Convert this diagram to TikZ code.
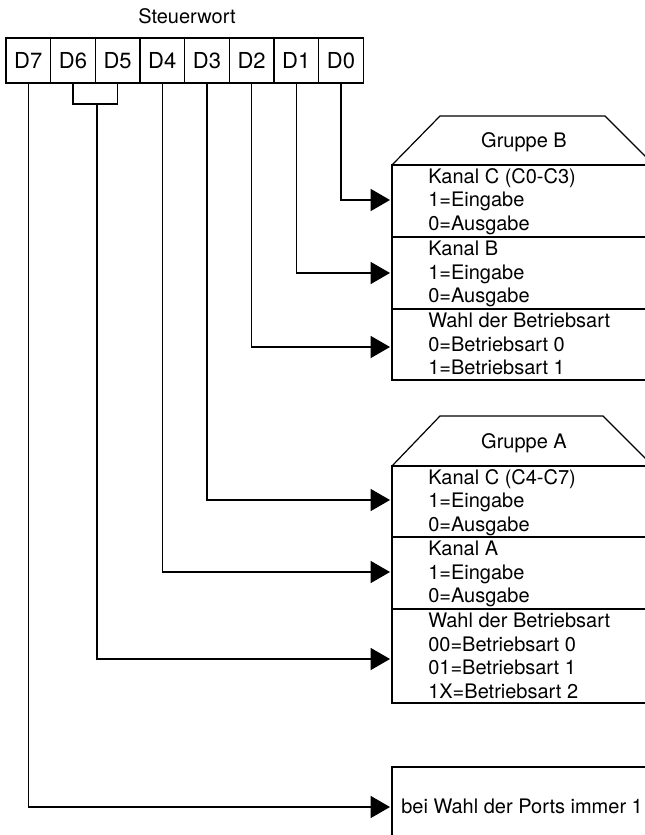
\documentclass[tikz,border=0pt]{standalone}
\usepackage{fontspec}
\setmainfont{TeX Gyre Heros}
\usetikzlibrary{arrows.meta,positioning}

\begin{document}
\begin{tikzpicture}[x=0.75pt,y=0.75pt,yscale=-1,
  every node/.style={font=\fontsize{15}{17.6}\selectfont},
  bit/.style={draw,line width=0.9pt,outer sep=0pt,inner sep=0pt,minimum width=33.5pt,minimum height=33.75pt,font=\fontsize{16.5}{18}\selectfont},
  feld/.style={anchor=north west,inner sep=0pt,align=left},
  rahmen/.style={line width=0.9pt},
  verb/.style={line width=0.9pt,-{Triangle[length=14.5pt,width=16.5pt]}}]
\useasboundingbox (0,0) rectangle (645,835);
\clip (0,0) rectangle (645,835);

% Text Node
\node (titel) at (187,16) {Steuerwort};

%Shape: Steuerwort D7 ... D0
\node[bit] (d7) at (28.3,60.5) {D7};
\foreach \n/\m in {6/7,5/6,4/5,3/4,2/3,1/2,0/1}
  \node[bit,right=0pt of d\m] (d\n) {D\n};

%Shape: Gruppe B
\draw[rahmen] (392,165) -- (440,116) -- (605,116) -- (654,165);
\draw[rahmen] (392,165) rectangle (700,237);
\draw[rahmen] (392,237) rectangle (700,309);
\draw[rahmen] (392,309) rectangle (700,380);
% Text Node
\node (grB) at (524,142) {Gruppe B};
% Text Node
\node[feld] (b1) at (428,168) {Kanal C (C0-C3)\\1=Eingabe\\0=Ausgabe};
% Text Node
\node[feld] (b2) at (428,241) {Kanal B\\1=Eingabe\\0=Ausgabe};
% Text Node
\node[feld] (b3) at (428,313) {Wahl der Betriebsart\\0=Betriebsart 0\\1=Betriebsart 1};

%Shape: Gruppe A
\draw[rahmen] (392,466) -- (440,416) -- (603,416) -- (653,466);
\draw[rahmen] (392,466) rectangle (700,537);
\draw[rahmen] (392,537) rectangle (700,609);
\draw[rahmen] (392,609) rectangle (700,703);
% Text Node
\node (grA) at (524,443) {Gruppe A};
% Text Node
\node[feld] (a1) at (428,469) {Kanal C (C4-C7)\\1=Eingabe\\0=Ausgabe};
% Text Node
\node[feld] (a2) at (428,541) {Kanal A\\1=Eingabe\\0=Ausgabe};
% Text Node
\node[feld] (a3) at (428,613) {Wahl der Betriebsart\\00=Betriebsart 0\\01=Betriebsart 1\\1X=Betriebsart 2};

%Shape: Ports
\draw[rahmen] (392,767) rectangle (700,900);
% Text Node
\node[anchor=west,inner sep=0pt] (ports) at (401,806) {bei Wahl der Ports immer 1};

% arrow ends at the boxes
\coordinate (zB1) at (390,200);
\coordinate (zB2) at (390,273);
\coordinate (zB3) at (390,347);
\coordinate (zA1) at (390,500);
\coordinate (zA2) at (390,572);
\coordinate (zA3) at (390,659);
\coordinate (zP) at (390,807);
\coordinate (klammer) at (97,104);

%Straight Lines
\draw[verb] (d0.south) |- (zB1);
\draw[verb] (d1.south) |- (zB2);
\draw[verb] (d2.south) |- (zB3);
\draw[verb] (d3.south) |- (zA1);
\draw[verb] (d4.south) |- (zA2);
\draw[rahmen] (d6.south) |- (klammer) -| (d5.south);
\draw[verb] (klammer) |- (zA3);
\draw[verb] (d7.south) |- (zP);

\end{tikzpicture}
\end{document}
